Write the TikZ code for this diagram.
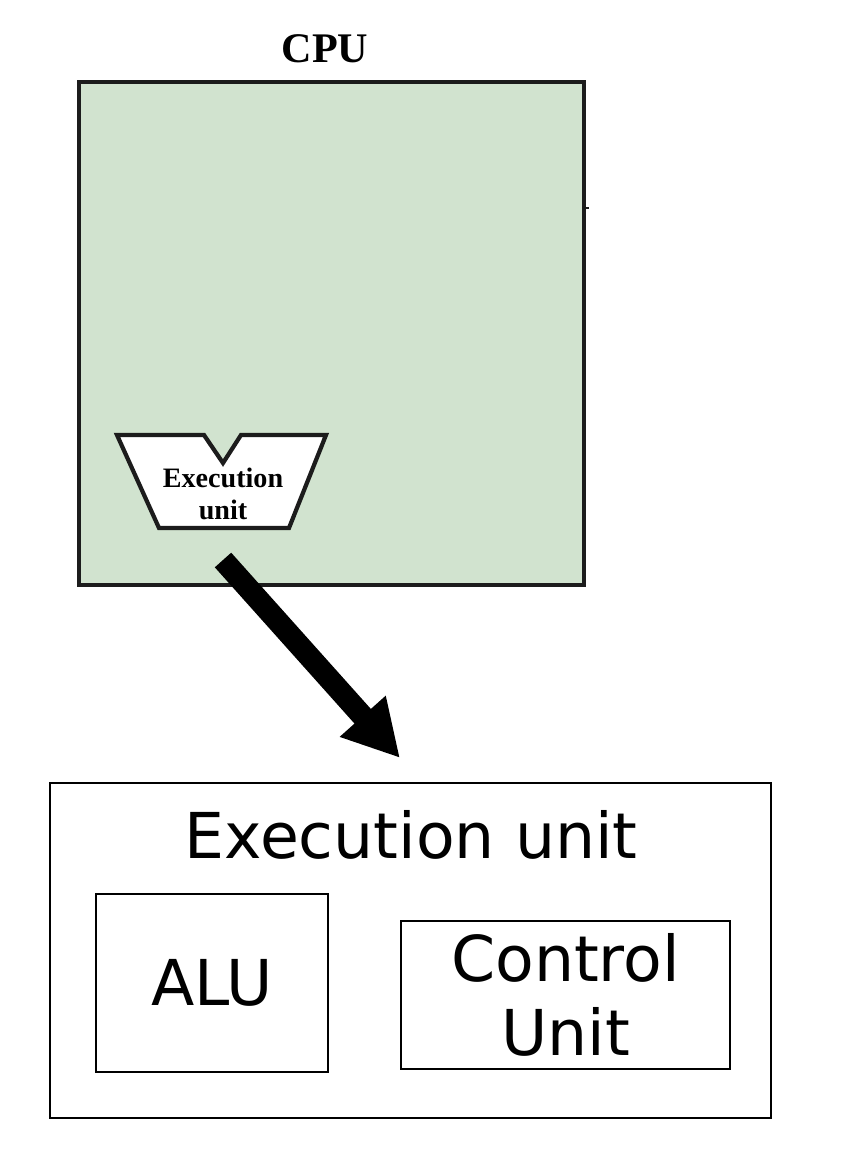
\documentclass[tikz,border=0pt]{standalone}
\usepackage{fontspec}
\usepackage{tikz}
\usetikzlibrary{positioning, arrows.meta}
\newfontfamily\serifbold{Liberation Serif}[BoldFont={Liberation Serif Bold}]
\newfontfamily\dejasans{DejaVu Sans}
\definecolor{cpufill}{HTML}{D1E3CF}
\definecolor{ink}{HTML}{1C1C1C}
\tikzset{
  cpubox/.style   = {rectangle, draw=ink, line width=2.3pt, fill=cpufill,
                     minimum width=10.1cm, minimum height=10.06cm, inner sep=0pt},
  eushape/.style  = {draw=ink, line width=2.4pt, fill=white, line join=miter},
  eutext/.style   = {inner sep=0pt, align=center,
                     font=\serifbold\bfseries\fontsize{16}{18}\selectfont},
  titletext/.style= {inner sep=0pt, anchor=base,
                     font=\serifbold\bfseries\fontsize{24}{28}\selectfont},
  outerbox/.style = {rectangle, draw=black, line width=1.4pt, inner sep=0pt},
  subbox/.style   = {rectangle, draw=black, line width=1.4pt, inner sep=0pt,
                     align=center, font=\dejasans\fontsize{36}{42}\selectfont},
  bigtext/.style  = {inner sep=0pt, anchor=base,
                     font=\dejasans\fontsize{36}{42}\selectfont},
  bigarrow/.style = {-{Triangle[length=1.12cm,width=1.15cm]}, line width=12.5pt, draw=black},
}

\begin{document}
\begin{tikzpicture}[x=0.02cm, y=-0.02cm]
  \useasboundingbox (0,0) rectangle (850,1156);

  % CPU with its execution unit
  \node[cpubox] (cpu) at (331.5,333.5) {};
  \node[titletext] (cputitle) at (325,62) {CPU};
  \draw[line width=1pt, ink] (584,208) -- (589,208);
  \draw[eushape] (117,435) -- (204,435) -- (223,463) -- (241,435) -- (326,435)
       -- (289,528) -- (159,528) -- cycle;
  \node[eutext] (eu) at (223,494) {Execution\\unit};

  % enlarged execution unit
  \node[outerbox, minimum width=14.42cm, minimum height=6.7cm] (exec) at (410.5,950.5) {};
  \node[bigtext] (exectitle) at (411,858) {Execution unit};
  \node[subbox, minimum width=4.64cm, minimum height=3.56cm] (alu) at (212,983) {ALU};
  \node[subbox, minimum width=6.58cm, minimum height=2.96cm] (cu) at (565.5,995) {Control\\Unit};

  % zoom arrow
  \coordinate (arrstart) at (223,560);
  \coordinate (arrend) at (400,758);
  \draw[bigarrow] (arrstart) -- (arrend);

\end{tikzpicture}
\end{document}
